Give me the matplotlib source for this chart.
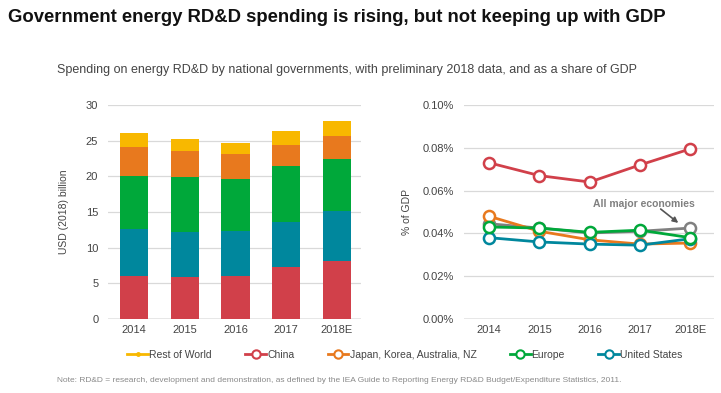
import matplotlib
matplotlib.use("Agg")
import matplotlib.pyplot as plt
from matplotlib.lines import Line2D
import numpy as np

years = ["2014", "2015", "2016", "2017", "2018E"]

# Left chart: USD (2018) billion, stacked
china_usd = [6.0, 5.9, 6.0, 7.3, 8.1]
us_usd = [6.6, 6.3, 6.4, 6.3, 7.1]
europe_usd = [7.5, 7.7, 7.2, 7.8, 7.3]
japan_usd = [4.0, 3.6, 3.5, 3.0, 3.2]
row_usd = [2.0, 1.8, 1.6, 2.0, 2.0]

# Right chart: % of GDP
china_gdp = [0.073, 0.067, 0.064, 0.072, 0.0795]
japan_gdp = [0.048, 0.041, 0.037, 0.035, 0.0355]
europe_gdp = [0.043, 0.0425, 0.0405, 0.0415, 0.038]
us_gdp = [0.038, 0.036, 0.035, 0.0345, 0.0375]
all_gdp = [0.0445, 0.0425, 0.0402, 0.041, 0.0425]

left_ticks = [0, 5, 10, 15, 20, 25, 30]
right_ticks = [0.0, 0.02, 0.04, 0.06, 0.08, 0.10]
right_labels = ["0.00%", "0.02%", "0.04%", "0.06%", "0.08%", "0.10%"]

C_CHINA = "#D1404A"
C_US = "#00879D"
C_EU = "#00A83A"
C_JP = "#E8791E"
C_ROW = "#F8B800"
C_ALL = "#808080"
TXT = "#444444"
GRID = "#D9D9D9"

plt.rcParams['font.family'] = ['Liberation Sans', 'DejaVu Sans']

fig = plt.figure(figsize=(7.21, 3.93), dpi=100)
W, H = 721, 393

def ax_rect(x0, y0, x1, y1):
    return [x0 / W, 1 - y1 / H, (x1 - x0) / W, (y1 - y0) / H]

ax1 = fig.add_axes(ax_rect(108, 105, 361, 319))
ax2 = fig.add_axes(ax_rect(464, 105, 714, 319))

x = np.arange(len(years))
bw = 0.56
bottom = np.zeros(len(years))
for vals, col in [(china_usd, C_CHINA), (us_usd, C_US), (europe_usd, C_EU),
                  (japan_usd, C_JP), (row_usd, C_ROW)]:
    ax1.bar(x, vals, bw, bottom=bottom, color=col, edgecolor="none", zorder=3)
    bottom += np.array(vals)

ax1.set_ylim(0, 30)
ax1.set_xlim(-0.52, 4.48)
ax1.set_yticks(left_ticks)
ax1.set_xticks(x)
ax1.set_xticklabels(years)
ax1.set_ylabel("USD (2018) billion", fontsize=7.5, color=TXT, labelpad=12)

for ax in (ax1, ax2):
    for s in ax.spines.values():
        s.set_visible(False)
    ax.yaxis.grid(True, color=GRID, linewidth=0.9, zorder=0)
    ax.set_axisbelow(True)
    ax.tick_params(axis='both', length=0, labelsize=8, colors=TXT)
    ax.tick_params(axis='y', pad=7)
    ax.tick_params(axis='x', pad=4)
    ax.axhline(0, color="#9a9a9a", linewidth=1.0, zorder=2)

ms = 8
mew = 1.8
lw = 2.0
ax2.plot(x, all_gdp, color=C_ALL, lw=lw, marker='o', ms=ms, mfc='white', mew=mew, zorder=3)
ax2.plot(x, japan_gdp, color=C_JP, lw=lw, marker='o', ms=ms, mfc='white', mew=mew, zorder=4)
ax2.plot(x, us_gdp, color=C_US, lw=lw, marker='o', ms=ms, mfc='white', mew=mew, zorder=5)
ax2.plot(x, europe_gdp, color=C_EU, lw=lw, marker='o', ms=ms, mfc='white', mew=mew, zorder=6)
ax2.plot(x, china_gdp, color=C_CHINA, lw=lw, marker='o', ms=ms, mfc='white', mew=mew, zorder=6)

ax2.set_ylim(0, 0.10)
ax2.set_xlim(-0.5, 4.47)
ax2.set_yticks(right_ticks)
ax2.set_yticklabels(right_labels)
ax2.set_xticks(x)
ax2.set_xticklabels(years)
ax2.set_ylabel("% of GDP", fontsize=7.5, color=TXT, labelpad=8)

ax2.text(3.07, 0.0537, "All major economies", fontsize=7.5, fontweight='bold',
         color=C_ALL, ha='center', va='center', zorder=7)
ax2.annotate("", xy=(3.76, 0.0449), xytext=(3.41, 0.0514),
             arrowprops=dict(arrowstyle='-|>', color='#555555', lw=1.2,
                             mutation_scale=8, shrinkA=0, shrinkB=0), zorder=7)

# Title and subtitle
fig.text(8 / W, 1 - 17 / H, "Government energy RD&D spending is rising, but not keeping up with GDP",
         fontsize=13.35, fontweight='bold', color="#111111", va='center', ha='left')
fig.text(57 / W, 1 - 70 / H,
         "Spending on energy RD&D by national governments, with preliminary 2018 data, and as a share of GDP",
         fontsize=9.0, color=TXT, va='center', ha='left')

# Legend
handles = [
    Line2D([], [], color=C_ROW, lw=2, marker='o', ms=2.5, mfc=C_ROW, mec=C_ROW),
    Line2D([], [], color=C_CHINA, lw=2, marker='o', ms=6, mfc='white', mew=1.5),
    Line2D([], [], color=C_JP, lw=2, marker='o', ms=6, mfc='white', mew=1.5),
    Line2D([], [], color=C_EU, lw=2, marker='o', ms=6, mfc='white', mew=1.5),
    Line2D([], [], color=C_US, lw=2, marker='o', ms=6, mfc='white', mew=1.5),
]
labels = ["Rest of World", "China", "Japan, Korea, Australia, NZ", "Europe", "United States"]
leg = fig.legend(handles, labels, loc='center', bbox_to_anchor=(405 / W, 1 - 355 / H),
                 ncol=5, frameon=False, fontsize=7.5, handlelength=2.0, handletextpad=0.1,
                 columnspacing=3.2)
for t in leg.get_texts():
    t.set_color(TXT)

fig.text(57 / W, 1 - 381 / H,
         "Note: RD&D = research, development and demonstration, as defined by the IEA Guide to Reporting Energy RD&D Budget/Expenditure Statistics, 2011.",
         fontsize=6.0, color="#8a8a8a", va='center', ha='left')

fig.savefig("out.png", dpi=100)
